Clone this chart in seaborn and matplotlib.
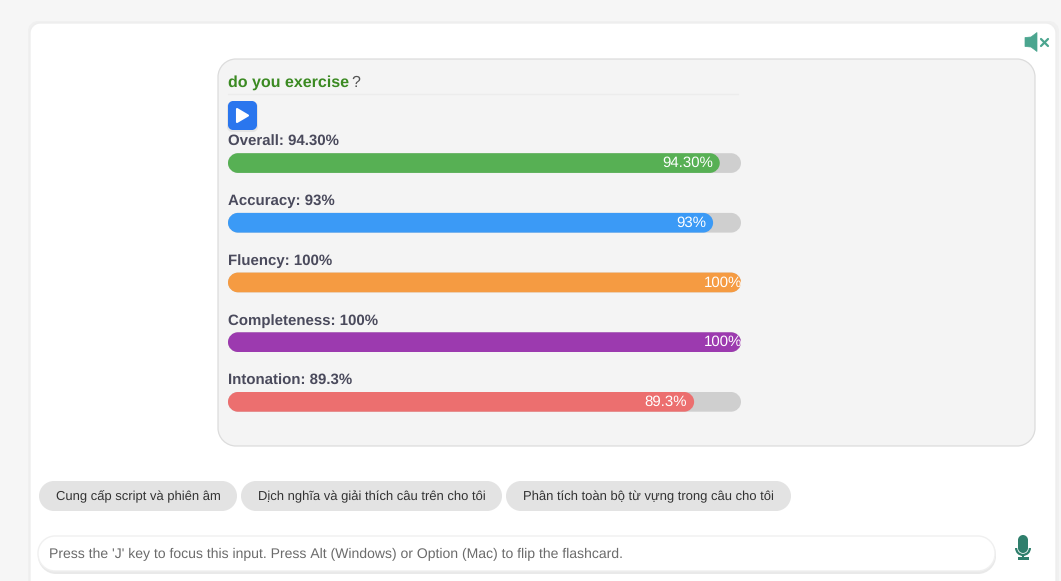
import matplotlib
matplotlib.use('Agg')
import matplotlib.pyplot as plt
from matplotlib.patches import PathPatch, Polygon, Rectangle, Wedge
from matplotlib.path import Path
import seaborn as sns

categories = ['Overall', 'Accuracy', 'Fluency', 'Completeness', 'Intonation']
scores = [94.3, 93, 100, 100, 89.3]
score_labels = ['94.30%', '93%', '100%', '100%', '89.3%']
bar_colors = ['#57B054', '#3B9AF6', '#F59B42', '#9C3AAF', '#EC6F6F']
buttons = ['Cung cấp script và phiên âm', 'Dịch nghĩa và giải thích câu trên cho tôi',
           'Phân tích toàn bộ từ vựng trong câu cho tôi']

sns.set_theme(style='white')
plt.rcParams['font.family'] = ['Liberation Sans', 'DejaVu Sans']
plt.rcParams['text.hinting'] = 'no_hinting'
plt.rcParams['text.hinting_factor'] = 1

fig = plt.figure(figsize=(10.61, 5.81), dpi=100, facecolor='#f6f6f6')

# page furniture, in pixels
bg = fig.add_axes([0, 0, 1, 1])
bg.set_xlim(0, 1061)
bg.set_ylim(581, 0)
bg.axis('off')


def rounded(x0, y0, x1, y1, rx, ry):
    # proper circular corners, FancyBboxPatch ones come out too square
    kx, ky = rx * 0.45, ry * 0.45
    verts = [(x0 + rx, y0), (x1 - rx, y0),
             (x1 - kx, y0), (x1, y0 + ky), (x1, y0 + ry),
             (x1, y1 - ry),
             (x1, y1 - ky), (x1 - kx, y1), (x1 - rx, y1),
             (x0 + rx, y1),
             (x0 + kx, y1), (x0, y1 - ky), (x0, y1 - ry),
             (x0, y0 + ry),
             (x0, y0 + ky), (x0 + kx, y0), (x0 + rx, y0),
             (x0 + rx, y0)]
    codes = [Path.MOVETO, Path.LINETO,
             Path.CURVE4, Path.CURVE4, Path.CURVE4,
             Path.LINETO,
             Path.CURVE4, Path.CURVE4, Path.CURVE4,
             Path.LINETO,
             Path.CURVE4, Path.CURVE4, Path.CURVE4,
             Path.LINETO,
             Path.CURVE4, Path.CURVE4, Path.CURVE4,
             Path.CLOSEPOLY]
    return Path(verts, codes)


def box(x0, y0, x1, y1, r, fc, ec='none', lw=0, z=1):
    bg.add_patch(PathPatch(rounded(x0, y0, x1, y1, r, r), fc=fc, ec=ec, lw=lw, zorder=z, clip_on=False))


box(28, 21, 1059, 600, 10, '#f0f0f0', z=0)
box(30, 23, 1056, 600, 10, '#ffffff', ec='#eeeeee', lw=1)
box(218, 59, 1035, 446, 18, '#f4f4f4', ec='#dcdcdc', lw=0.9)
bg.plot([228, 738], [93.5, 93.5], color='#ececec', lw=1, zorder=2)

# title
bg.text(228, 83, 'do you exercise', fontsize=11.5, fontweight='bold', color='#3B8A22', va='center', zorder=3)
bg.text(351, 83, '?', fontsize=11.5, color='#555555', va='center', zorder=3)

# play button
box(227, 102, 258, 132, 5, '#e4e4e4', z=2)
box(228, 101, 257, 130, 5, '#2A76EE', z=3)
bg.add_patch(Polygon([[237, 109], [237, 122], [248, 115.5]], closed=True, fc='white', ec='white', lw=1.5,
                     joinstyle='round', zorder=4))

# bars
ax = fig.add_axes([228 / 1061, (581 - 411.7) / 581, 513 / 1061, 258.5 / 581])
ax.patch.set_alpha(0)
PAD = 1.56
XMAX = 98.44
sns.barplot(y=categories, x=[XMAX] * len(categories), color='#CFCFCF', width=0.33, saturation=1, ax=ax)
sns.barplot(y=categories, x=scores, hue=categories, palette=bar_colors, legend=False, width=0.33, saturation=1, ax=ax)
ax.set_xlim(-PAD, XMAX)
ax.set_ylim(4.165, -0.165)
ax.axis('off')

# round the bar ends
for bar in list(ax.patches):
    y0 = bar.get_y()
    h = bar.get_height()
    x1 = min(bar.get_x() + bar.get_width(), XMAX)
    ax.add_patch(PathPatch(rounded(-PAD, y0, x1, y0 + h, 1.95, h / 2), fc=bar.get_facecolor(), ec='none', clip_on=False))
    bar.remove()

for i, (cat, val, lab) in enumerate(zip(categories, scores, score_labels)):
    ax.text(-PAD, i - 0.358, f'{cat}: {lab}', fontsize=10.5, fontweight='bold', color='#4A4A5C', va='center', ha='left')
    ax.text(val - 1.36, i + 0.005, lab, fontsize=10.6, color='white', va='center', ha='right', zorder=5)

# suggestion buttons
for (x0, x1), label in zip([(39, 237), (241, 502), (506, 791)], buttons):
    box(x0, 481, x1, 511, 15, '#E3E3E3', z=2)
    bg.text((x0 + x1) / 2, 496.5, label, fontsize=9.5, color='#333333', ha='center', va='center', zorder=3)

# input
box(38, 537, 996, 574, 18, '#e9e9e9', z=2)
box(38, 536, 995, 571, 17, '#ffffff', ec='#f0f0f0', lw=1, z=2)
bg.text(49, 554, "Press the 'J' key to focus this input. Press Alt (Windows) or Option (Mac) to flip the flashcard.",
        fontsize=10.4, color='#6b6b6b', va='center', zorder=3)

# speaker icon
bg.add_patch(Polygon([[1025, 37.5], [1031, 37], [1037, 32.5], [1037, 51.5], [1031, 47], [1025, 46.5]], closed=True,
                     fc='#4BA58F', ec='#4BA58F', lw=0.5, zorder=3))
bg.plot([1041, 1048], [39, 46], color='#4BA58F', lw=1.6, zorder=3)
bg.plot([1041, 1048], [46, 39], color='#4BA58F', lw=1.6, zorder=3)

# mic icon
box(1018, 535, 1028, 553, 5, '#2F7F6C', z=3)
bg.add_patch(Wedge((1023, 548), 8, 0, 180, width=2.2, fc='#2F7F6C', ec='none', zorder=3))
bg.add_patch(Rectangle((1022, 555), 2, 3, fc='#2F7F6C', ec='none', zorder=3))
bg.add_patch(Rectangle((1017.5, 557), 11, 2.5, fc='#2F7F6C', ec='none', zorder=3))

fig.savefig('out.png', dpi=100, facecolor=fig.get_facecolor())
